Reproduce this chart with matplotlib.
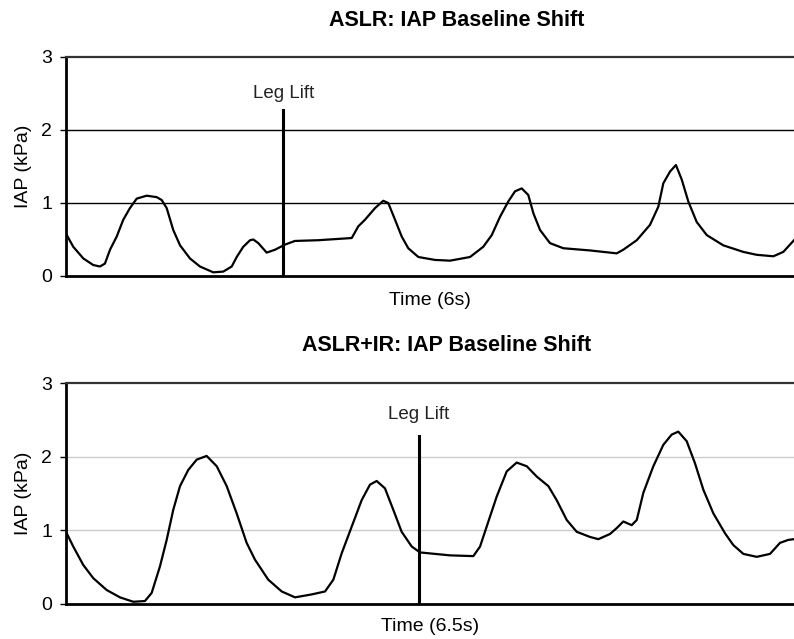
import matplotlib
matplotlib.use('Agg')
import matplotlib.pyplot as plt

plt.rcParams['font.family'] = ['Liberation Sans', 'DejaVu Sans']

# ASLR trace, time in seconds (6 s window), IAP in kPa
aslr_time = [0.0, 0.060, 0.143, 0.225, 0.280, 0.321, 0.363, 0.418, 0.472, 0.527,
             0.583, 0.665, 0.748, 0.789, 0.830, 0.884, 0.940, 1.022, 1.104, 1.214,
             1.296, 1.366, 1.407, 1.461, 1.517, 1.544, 1.585, 1.654, 1.723, 1.805,
             1.887, 2.079, 2.355, 2.409, 2.464, 2.547, 2.615, 2.656, 2.712, 2.767,
             2.821, 2.904, 3.041, 3.165, 3.330, 3.439, 3.509, 3.577, 3.645, 3.701,
             3.756, 3.810, 3.852, 3.907, 3.989, 4.099, 4.319, 4.539, 4.593, 4.704,
             4.813, 4.882, 4.923, 4.978, 5.027, 5.075, 5.129, 5.198, 5.281, 5.417,
             5.582, 5.693, 5.830, 5.912, 6.0]
aslr_iap = [0.58, 0.40, 0.24, 0.15, 0.13, 0.17, 0.36, 0.54, 0.77, 0.93,
            1.06, 1.10, 1.08, 1.04, 0.93, 0.63, 0.42, 0.24, 0.13, 0.05,
            0.06, 0.13, 0.26, 0.40, 0.49, 0.50, 0.45, 0.32, 0.36, 0.43,
            0.48, 0.49, 0.52, 0.68, 0.77, 0.93, 1.03, 1.00, 0.77, 0.54,
            0.38, 0.26, 0.22, 0.21, 0.26, 0.40, 0.56, 0.81, 1.02, 1.16,
            1.20, 1.11, 0.86, 0.63, 0.45, 0.38, 0.35, 0.31, 0.36, 0.49,
            0.70, 0.95, 1.27, 1.43, 1.52, 1.32, 1.02, 0.74, 0.56, 0.42,
            0.33, 0.29, 0.27, 0.33, 0.49]

# ASLR+IR trace, 6.5 s window
aslr_ir_time = [0.0, 0.065, 0.154, 0.244, 0.363, 0.482, 0.601, 0.705, 0.765, 0.839,
                0.899, 0.958, 1.018, 1.092, 1.167, 1.256, 1.346, 1.435, 1.524, 1.613,
                1.688, 1.806, 1.926, 2.045, 2.194, 2.313, 2.387, 2.462, 2.551, 2.640,
                2.714, 2.774, 2.848, 2.922, 2.997, 3.087, 3.161, 3.295, 3.429, 3.637,
                3.697, 3.756, 3.846, 3.935, 4.024, 4.114, 4.203, 4.307, 4.381, 4.471,
                4.560, 4.679, 4.753, 4.857, 4.917, 4.976, 5.051, 5.096, 5.155, 5.244,
                5.333, 5.408, 5.467, 5.542, 5.616, 5.691, 5.780, 5.884, 5.958, 6.048,
                6.167, 6.286, 6.375, 6.449, 6.5]
aslr_ir_iap = [0.98, 0.78, 0.53, 0.35, 0.19, 0.09, 0.03, 0.04, 0.15, 0.51,
               0.87, 1.28, 1.60, 1.82, 1.96, 2.01, 1.87, 1.60, 1.23, 0.83,
               0.60, 0.33, 0.17, 0.09, 0.13, 0.17, 0.33, 0.69, 1.05, 1.41,
               1.62, 1.67, 1.57, 1.28, 0.98, 0.78, 0.70, 0.68, 0.66, 0.65,
               0.78, 1.05, 1.46, 1.80, 1.92, 1.87, 1.73, 1.60, 1.41, 1.14,
               0.98, 0.91, 0.88, 0.95, 1.03, 1.12, 1.07, 1.14, 1.51, 1.87,
               2.16, 2.30, 2.34, 2.21, 1.91, 1.55, 1.23, 0.96, 0.80, 0.68,
               0.64, 0.68, 0.83, 0.87, 0.88]

leg_lift = [1.79, 3.15]
y_ticks = [0, 1, 2, 3]

fig = plt.figure(figsize=(7.94, 6.39), dpi=100)
ax1 = fig.add_axes([0.0831, 0.5681, 0.9169, 0.3427])
ax2 = fig.add_axes([0.0831, 0.0548, 0.9169, 0.3458])

panels = [
    (ax1, aslr_time, aslr_iap, 6.0, leg_lift[0], 2.5, 'Time (6s)', -0.11, 'black'),
    (ax2, aslr_ir_time, aslr_ir_iap, 6.5, leg_lift[1], 2.57, 'Time (6.5s)', -0.104, '#cccccc'),
]

for ax, t, v, tmax, lift, text_y, xlabel, xlab_y, gcol in panels:
    for yv in [1, 2]:
        ax.axhline(yv, color=gcol, lw=1, zorder=1)
    ax.plot(t, v, color='black', lw=1.6, zorder=3)
    ax.plot([lift, lift], [0, 2.28], color='black', lw=2.2, zorder=4)
    ax.text(lift, text_y, 'Leg Lift', ha='center', va='center', fontsize=13.5,
            color='#222222')
    ax.set_xlim(0, tmax)
    ax.set_ylim(0, 3)
    ax.set_yticks(y_ticks)
    ax.set_xticks([])
    ax.tick_params(axis='y', length=4, width=1, labelsize=14, pad=6)
    ax.set_ylabel('IAP (kPa)', fontsize=14, va='center')
    ax.yaxis.set_label_coords(-0.058, 0.5)
    ax.set_xlabel(xlabel, fontsize=14, va='center')
    ax.xaxis.set_label_coords(0.5, xlab_y)
    ax.spines['right'].set_visible(False)
    ax.spines['top'].set_color('#333333')
    ax.spines['top'].set_linewidth(1.6)
    ax.spines['left'].set_linewidth(2)
    ax.spines['bottom'].set_linewidth(2)

fig.text(0.575, 0.968, 'ASLR: IAP Baseline Shift', ha='center', va='center',
         fontsize=15.5, fontweight='bold')
fig.text(0.563, 0.460, 'ASLR+IR: IAP Baseline Shift', ha='center', va='center',
         fontsize=15.5, fontweight='bold')

fig.savefig('out.png', dpi=100)
